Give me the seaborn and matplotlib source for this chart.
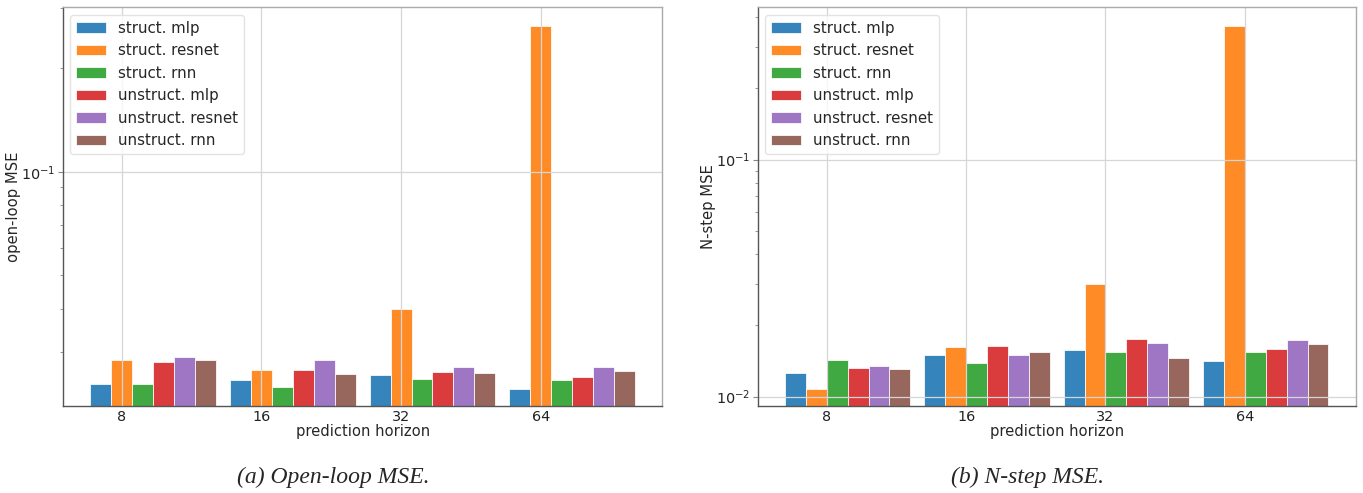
import numpy as np
import pandas as pd
import matplotlib
matplotlib.use("Agg")
import matplotlib.pyplot as plt
import matplotlib.ticker as mticker
import seaborn as sns

# ---------------- data ----------------
horizons = ["8", "16", "32", "64"]
models = ["struct. mlp", "struct. resnet", "struct. rnn",
          "unstruct. mlp", "unstruct. resnet", "unstruct. rnn"]

# (a) open-loop MSE
ol_struct_mlp = [0.02414, 0.0248, 0.02565, 0.02335]
ol_struct_resnet = [0.02841, 0.02646, 0.03991, 0.2651]
ol_struct_rnn = [0.0241, 0.02371, 0.02496, 0.02474]
ol_unstruct_mlp = [0.02792, 0.02651, 0.02622, 0.02535]
ol_unstruct_resnet = [0.02887, 0.02836, 0.027, 0.027]
ol_unstruct_rnn = [0.02836, 0.02587, 0.02594, 0.02634]

# (b) N-step MSE
ns_struct_mlp = [0.01258, 0.01494, 0.01568, 0.01418]
ns_struct_resnet = [0.01081, 0.0162, 0.02976, 0.368]
ns_struct_rnn = [0.01423, 0.01387, 0.01538, 0.01538]
ns_unstruct_mlp = [0.01317, 0.0163, 0.01755, 0.01584]
ns_unstruct_resnet = [0.01347, 0.01494, 0.01684, 0.01728]
ns_unstruct_rnn = [0.01308, 0.01547, 0.01456, 0.01667]

colors = ["#1f77b4", "#ff7f0e", "#2ca02c", "#d62728", "#9467bd", "#8c564b"]


def long_df(series):
    rows = []
    for m, vals in zip(models, series):
        for h, v in zip(horizons, vals):
            rows.append({"horizon": h, "model": m, "mse": v})
    return pd.DataFrame(rows)


df_ol = long_df([ol_struct_mlp, ol_struct_resnet, ol_struct_rnn,
                 ol_unstruct_mlp, ol_unstruct_resnet, ol_unstruct_rnn])
df_ns = long_df([ns_struct_mlp, ns_struct_resnet, ns_struct_rnn,
                 ns_unstruct_mlp, ns_unstruct_resnet, ns_unstruct_rnn])

# ---------------- style ----------------
sns.set_style("whitegrid", {
    "axes.edgecolor": "#888888",
    "grid.color": "#d6d6d6",
    "axes.axisbelow": "line",
    "xtick.bottom": True,
    "ytick.left": True,
})
plt.rcParams["font.family"] = ["DejaVu Sans"]
plt.rcParams["xtick.major.size"] = 0
plt.rcParams["ytick.major.size"] = 3.5
plt.rcParams["ytick.minor.size"] = 2
plt.rcParams["axes.linewidth"] = 1.0

fig = plt.figure(figsize=(13.63, 4.93), dpi=100)
ax1 = fig.add_axes([0.0462, 0.1759, 0.4397, 0.8093])
ax2 = fig.add_axes([0.5559, 0.1759, 0.4387, 0.8093])

panels = [
    (ax1, df_ol, "open-loop MSE", (0.0208, 0.3006), -0.225),
    (ax2, df_ns, "N-step MSE", (0.00911, 0.4395), -0.15),
]

for ax, df, ylab, ylim, tick_shift in panels:
    sns.barplot(data=df, x="horizon", y="mse", hue="model", order=horizons,
                hue_order=models, palette=colors, saturation=1, alpha=0.9,
                width=0.9, edgecolor="white", linewidth=0.6, errorbar=None,
                ax=ax)
    ax.set_yscale("log")
    ax.set_ylim(*ylim)
    ax.set_xlim(-0.645, 3.645)
    pos = np.arange(len(horizons)) + tick_shift
    ax.set_xticks(pos)
    ax.set_xticklabels(horizons, fontsize=10.4)
    ax.yaxis.set_minor_formatter(mticker.NullFormatter())
    ax.tick_params(axis="y", which="major", labelsize=10.4, pad=2)
    ax.tick_params(axis="x", pad=3)
    ax.tick_params(axis="both", which="both", colors="#888888", labelcolor="#222222")
    ax.grid(True, which="major", color="#d6d6d6", linewidth=0.9)
    ax.grid(False, which="minor")
    ax.set_axisbelow("line")
    ax.set_xlabel("prediction horizon", fontsize=10.6, labelpad=0)
    ax.set_ylabel(ylab, fontsize=10.6, labelpad=0)
    for s in ["top", "right"]:
        ax.spines[s].set_color("#aaaaaa")
    for s in ["left", "bottom"]:
        ax.spines[s].set_color("#555555")
    ax.legend(loc="upper left", fontsize=10.8, frameon=True, framealpha=0.8,
              edgecolor="#dddddd", borderaxespad=0.5)

fig.text(0.2447, 0.032, "(a) Open-loop MSE.", family="Liberation Serif",
         style="italic", fontsize=17, ha="center", va="center")
fig.text(0.7539, 0.032, "(b) N-step MSE.", family="Liberation Serif",
         style="italic", fontsize=17, ha="center", va="center")

fig.savefig("out.png", dpi=100)
